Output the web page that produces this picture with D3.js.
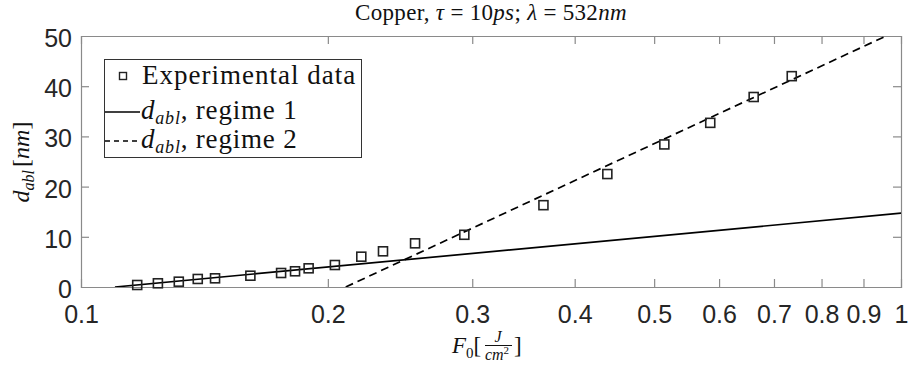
<!DOCTYPE html>
<html>
<head>
<meta charset="utf-8">
<script src="https://cdn.jsdelivr.net/npm/d3@7"></script>
<style>
  html, body { margin: 0; padding: 0; background: #fff; }
  svg { display: block; }
  .tick-label { font-family: "Liberation Sans", Arial, sans-serif; font-size: 25px; fill: #262626; }
  .serif { font-family: "Liberation Serif", "Times New Roman", serif; fill: #111; }
</style>
</head>
<body>
<svg id="chart" width="909" height="370"></svg>
<script>
// Ablation depth vs. fluence, copper, 10 ps pulses at 532 nm
const fluence = [0.1171, 0.1241, 0.1316, 0.1388, 0.1457, 0.1609, 0.1754, 0.1824, 0.1895, 0.2040,
                 0.2197, 0.2335, 0.2555, 0.2934, 0.3664, 0.4384, 0.5145, 0.5853, 0.6612, 0.7358];
const depth   = [0.40, 0.74, 1.06, 1.60, 1.73, 2.25, 2.79, 3.13, 3.72, 4.38,
                 6.04, 7.11, 8.70, 10.4, 16.3, 22.5, 28.4, 32.7, 37.85, 42.0];

// Logarithmic fits: straight lines on the log-F axis, given by their end points
const regime1F = [0.110, 1.0];
const regime1D = [0, 14.7];
const regime2F = [0.2103, 0.9588];
const regime2D = [0, 50];

const xTicks = [0.1, 0.2, 0.3, 0.4, 0.5, 0.6, 0.7, 0.8, 0.9, 1];
const xTickLabels = ["0.1", "0.2", "0.3", "0.4", "0.5", "0.6", "0.7", "0.8", "0.9", "1"];
const yTicks = [0, 10, 20, 30, 40, 50];

const margin = { left: 81, right: 8, top: 36, bottom: 83 };
const W = 909, H = 370;
const plotW = W - margin.left - margin.right;
const plotH = H - margin.top - margin.bottom;

const svg = d3.select("#chart");
const x = d3.scaleLog().domain([0.1, 1]).range([margin.left, margin.left + plotW]);
const y = d3.scaleLinear().domain([0, 50]).range([margin.top + plotH, margin.top]);

svg.append("defs").append("clipPath").attr("id", "plot-clip")
  .append("rect").attr("x", margin.left).attr("y", margin.top)
  .attr("width", plotW).attr("height", plotH);

const axisColor = "#8a8a8a";
const tickLen = 8;

// Axes with inward ticks on all four sides
const gx = svg.append("g").attr("transform", `translate(0,${margin.top + plotH})`)
  .call(d3.axisBottom(x).tickValues(xTicks).tickSize(-tickLen).tickFormat((d, i) => xTickLabels[i]).tickPadding(18));
const gxTop = svg.append("g").attr("transform", `translate(0,${margin.top})`)
  .call(d3.axisTop(x).tickValues(xTicks).tickSize(-tickLen).tickFormat(""));
const gy = svg.append("g").attr("transform", `translate(${margin.left},0)`)
  .call(d3.axisLeft(y).tickValues(yTicks).tickSize(-tickLen).tickFormat(d3.format("d")).tickPadding(9));
const gyRight = svg.append("g").attr("transform", `translate(${margin.left + plotW},0)`)
  .call(d3.axisRight(y).tickValues(yTicks).tickSize(-tickLen).tickFormat(""));

[gx, gxTop, gy, gyRight].forEach(g => {
  g.select(".domain").attr("stroke", axisColor).attr("stroke-width", 1.2);
  g.selectAll(".tick line").attr("stroke", axisColor).attr("stroke-width", 1.2);
  g.selectAll(".tick text").attr("class", "tick-label").attr("fill", "#262626");
});
gx.selectAll(".tick text").attr("dy", "0.72em");
gy.selectAll(".tick text").attr("dy", "0.42em");
// hide end ticks that coincide with the box
gx.selectAll(".tick line").filter(d => d === 0.1 || d === 1).remove();
gxTop.selectAll(".tick line").filter(d => d === 0.1 || d === 1).remove();
gy.selectAll(".tick line").filter(d => d === 0 || d === 50).remove();
gyRight.selectAll(".tick line").filter(d => d === 0 || d === 50).remove();

// Fit lines
const line = d3.line().x(d => x(d[0])).y(d => y(d[1]));
const plot = svg.append("g").attr("clip-path", "url(#plot-clip)");
plot.append("path").datum(d3.zip(regime1F, regime1D))
  .attr("d", line).attr("fill", "none").attr("stroke", "#000").attr("stroke-width", 1.7);
plot.append("path").datum(d3.zip(regime2F, regime2D))
  .attr("d", line).attr("fill", "none").attr("stroke", "#000").attr("stroke-width", 1.7)
  .attr("stroke-dasharray", "8,5");

// Experimental points
const sq = 9;
svg.append("g").selectAll("rect").data(d3.zip(fluence, depth)).join("rect")
  .attr("x", d => x(d[0]) - sq / 2).attr("y", d => y(d[1]) - sq / 2)
  .attr("width", sq).attr("height", sq)
  .attr("fill", "none").attr("stroke", "#222").attr("stroke-width", 1.6);

// Title
const title = svg.append("text").attr("class", "serif").attr("x", margin.left + plotW / 2).attr("y", 20)
  .attr("text-anchor", "middle").attr("font-size", 23).attr("letter-spacing", 0.3);
title.append("tspan").text("Copper, ");
title.append("tspan").attr("font-style", "italic").text("τ");
title.append("tspan").text(" = 10");
title.append("tspan").attr("font-style", "italic").text("ps");
title.append("tspan").text(";  ");
title.append("tspan").attr("font-style", "italic").text("λ");
title.append("tspan").text(" = 532");
title.append("tspan").attr("font-style", "italic").text("nm");

// Legend
const lg = svg.append("g");
lg.append("rect").attr("x", 104.5).attr("y", 59.5).attr("width", 257).attr("height", 98)
  .attr("fill", "#fff").attr("stroke", "#333").attr("stroke-width", 1);
lg.append("rect").attr("x", 119.5).attr("y", 72.5).attr("width", 7).attr("height", 7)
  .attr("fill", "none").attr("stroke", "#222").attr("stroke-width", 1.4);
lg.append("text").attr("class", "serif").attr("x", 142).attr("y", 84).attr("font-size", 27)
  .attr("letter-spacing", 1).text("Experimental data");
lg.append("line").attr("x1", 105).attr("x2", 140).attr("y1", 112).attr("y2", 112)
  .attr("stroke", "#000").attr("stroke-width", 1.5);
lg.append("line").attr("x1", 105).attr("x2", 140).attr("y1", 141).attr("y2", 141)
  .attr("stroke", "#000").attr("stroke-width", 1.5).attr("stroke-dasharray", "5,4");
[["1", 119], ["2", 148]].forEach(([n, yy]) => {
  const t = lg.append("text").attr("class", "serif").attr("x", 141).attr("y", yy)
    .attr("font-size", 27).attr("letter-spacing", 0.8);
  t.append("tspan").attr("font-style", "italic").text("d");
  t.append("tspan").attr("font-style", "italic").attr("font-size", 18).attr("dy", 5).text("abl");
  t.append("tspan").attr("dy", -5).text(", regime " + n);
});

// Y axis label
const yl = svg.append("text").attr("class", "serif")
  .attr("transform", `translate(29,162) rotate(-90)`).attr("text-anchor", "middle").attr("font-size", 24);
yl.append("tspan").attr("font-style", "italic").text("d");
yl.append("tspan").attr("font-style", "italic").attr("font-size", 16).attr("dy", 5).text("abl");
yl.append("tspan").attr("dy", -5).attr("dx", 3).text("[");
yl.append("tspan").attr("font-style", "italic").text("nm");
yl.append("tspan").text("]");

// X axis label with fraction J / cm^2
const xl = svg.append("g");
const f = xl.append("text").attr("class", "serif").attr("x", 452).attr("y", 353).attr("font-size", 23);
f.append("tspan").attr("font-style", "italic").text("F");
f.append("tspan").attr("font-size", 15).attr("dy", 5).text("0");
f.append("tspan").attr("dy", -5).text("[");
xl.append("text").attr("class", "serif").attr("x", 498).attr("y", 342).attr("text-anchor", "middle")
  .attr("font-size", 16).attr("font-style", "italic").text("J");
xl.append("line").attr("x1", 485).attr("x2", 512).attr("y1", 345.5).attr("y2", 345.5)
  .attr("stroke", "#111").attr("stroke-width", 1);
const den = xl.append("text").attr("class", "serif").attr("x", 497).attr("y", 360).attr("text-anchor", "middle")
  .attr("font-size", 16).attr("font-style", "italic");
den.append("tspan").text("cm");
den.append("tspan").attr("font-size", 11).attr("font-style", "normal").attr("dy", -6).text("2");
xl.append("text").attr("class", "serif").attr("x", 514).attr("y", 353).attr("font-size", 23).text("]");
</script>
</body>
</html>
